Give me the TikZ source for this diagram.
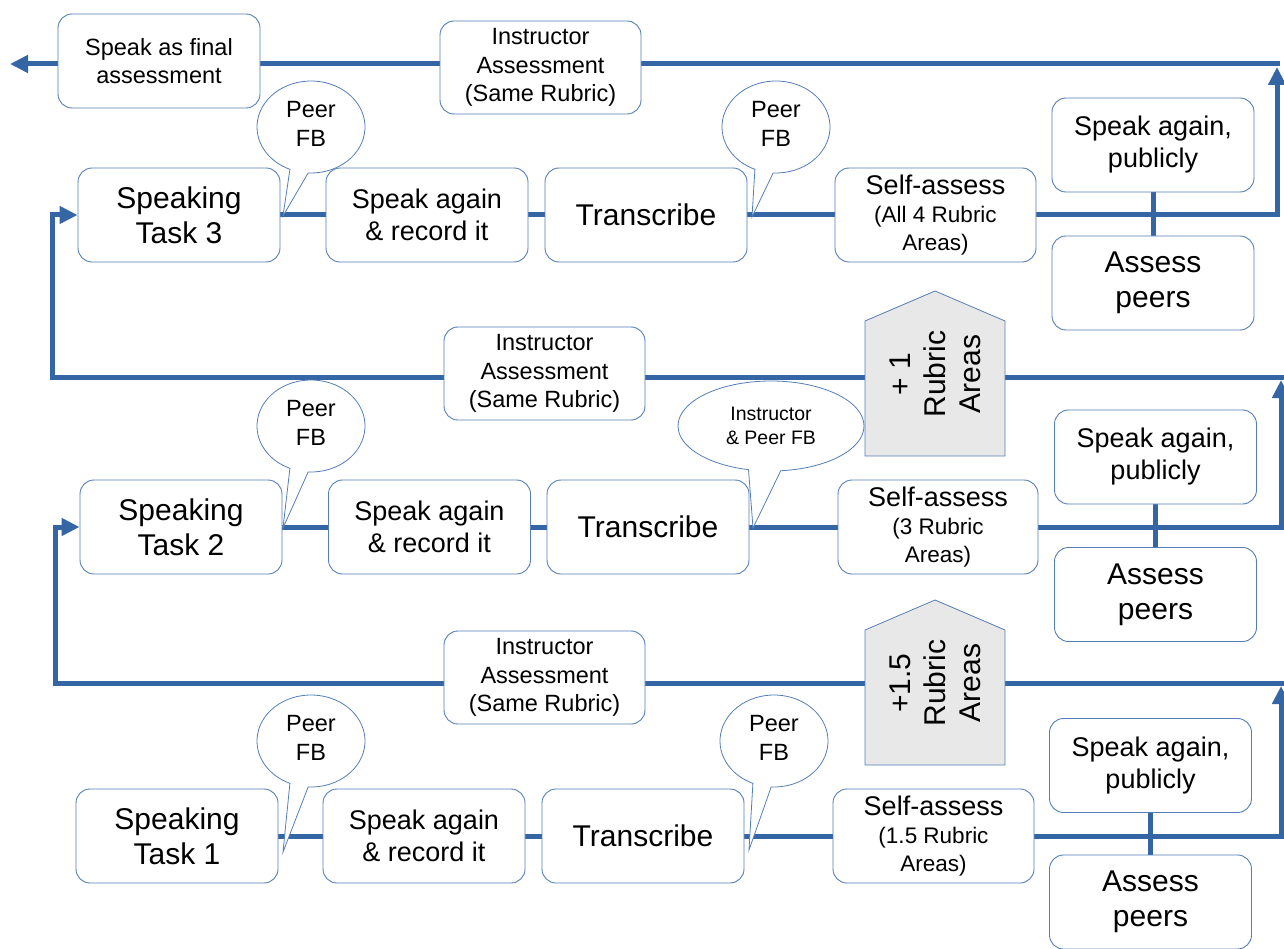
\documentclass[tikz,border=0pt]{standalone}
\usepackage{fontspec}
\setmainfont{Liberation Sans}
\usetikzlibrary{arrows.meta}
\definecolor{lineblue}{RGB}{52,101,164}
\definecolor{edgeblue}{RGB}{84,126,184}
\definecolor{pentfill}{RGB}{232,232,232}
\pgfdeclarelayer{bg}
\pgfsetlayers{bg,main}
\begin{document}
\begin{tikzpicture}[x=1pt,y=-1pt,
  flow/.style={draw=lineblue,line width=5pt},
  arrowend/.style={-{Triangle[length=18pt,width=17pt]}},
  box/.style={draw=edgeblue,line width=0.9pt,rounded corners=14pt,fill=white,align=center,inner sep=0pt,minimum width=202pt,minimum height=94pt},
  big/.style={font=\fontsize{30}{35}\selectfont},
  mid/.style={font=\fontsize{27}{32}\selectfont},
  small/.style={font=\fontsize{23.5}{28.5}\selectfont},
  selfa/.style={font=\fontsize{22.5}{28}\selectfont},
  tiny/.style={font=\fontsize{19.5}{24.5}\selectfont},
  callout/.style={draw=edgeblue,line width=0.8pt,fill=white},
  pent/.style={draw=edgeblue,line width=0.8pt,fill=pentfill},
  penttext/.style={font=\fontsize{30}{35}\selectfont,align=center,rotate=90}]
\useasboundingbox (0,0) rectangle (1284,949);

% ---------- top row: final ----------
\node[box,small] (SF) at (159,61) {Speak as final\\assessment};
\node[box,small,minimum width=201pt,minimum height=93pt] (IA3) at (540.5,67.5) {Instructor\\Assessment\\(Same Rubric)};
\coordinate (topR) at (1280,64);
\coordinate (endL) at (10,64);

% ---------- row 3 ----------
\node[box,big] (ST3) at (179,215) {Speaking\\Task 3};
\node[box,mid] (SA3) at (427,215) {Speak again\\\& record it};
\node[box,big] (TR3) at (646,215) {Transcribe};
\node[box,selfa,minimum width=201pt] (SL3) at (935.5,215) {{\fontsize{27}{29}\selectfont Self-assess}\\(All 4 Rubric\\Areas)};
\node[box,mid] (SP3) at (1153,145) {Speak again,\\publicly};
\node[box,big] (AP3) at (1153,283) {Assess\\peers};
\coordinate (up3) at (1277,67);

% ---------- row 2 ----------
\node[box,small,minimum width=201pt,minimum height=93pt] (IA2) at (544.5,373.5) {Instructor\\Assessment\\(Same Rubric)};
\node[box,big] (ST2) at (181,527) {Speaking\\Task 2};
\node[box,mid] (SA2) at (429.5,527) {Speak again\\\& record it};
\node[box,big] (TR2) at (648,527) {Transcribe};
\node[box,selfa,minimum width=200pt] (SL2) at (938,527) {{\fontsize{27}{29}\selectfont Self-assess}\\(3 Rubric\\Areas)};
\node[box,mid] (SP2) at (1155.5,457) {Speak again,\\publicly};
\node[box,big] (AP2) at (1155.5,594.5) {Assess\\peers};
\coordinate (up2) at (1281,380);
\coordinate (ret2R) at (1284,377);
\coordinate (ret2L) at (52,377);

% ---------- row 1 ----------
\node[box,small,minimum width=201pt,minimum height=93pt] (IA1) at (544.5,677.5) {Instructor\\Assessment\\(Same Rubric)};
\node[box,big] (ST1) at (177,836) {Speaking\\Task 1};
\node[box,mid] (SA1) at (424,836) {Speak again\\\& record it};
\node[box,big] (TR1) at (643,836) {Transcribe};
\node[box,selfa,minimum width=201pt] (SL1) at (933.5,836) {{\fontsize{27}{29}\selectfont Self-assess}\\(1.5 Rubric\\Areas)};
\node[box,mid] (SP1) at (1150.5,765.5) {Speak again,\\publicly};
\node[box,big] (AP1) at (1150.5,902) {Assess\\peers};
\coordinate (up1) at (1281,686);
\coordinate (ret1R) at (1284,683);
\coordinate (ret1L) at (55,683);

% ---------- pentagons ----------
\draw[pent] (865,456) -- (865,321) -- (935,291) -- (1005,321) -- (1005,456) -- cycle;
\node[penttext] (P2) at (935,374) {+ 1\\Rubric\\Areas};
\draw[pent] (865,765) -- (865,630) -- (935,600) -- (1005,630) -- (1005,765) -- cycle;
\node[penttext] (P1) at (935,683) {+1.5\\Rubric\\Areas};

% ---------- callouts ----------
\draw[callout] (311,127) ++(93:54 and 46) arc[start angle=93,end angle=-247,x radius=54,y radius=46] -- (283,216) -- cycle;
\node[small,align=center] (C3L) at (311,124) {Peer\\FB};
\draw[callout] (776,127) ++(93:54 and 46) arc[start angle=93,end angle=-247,x radius=54,y radius=46] -- (752,217) -- cycle;
\node[small,align=center] (C3R) at (776,124) {Peer\\FB};
\draw[callout] (311,426) ++(93:54 and 46) arc[start angle=93,end angle=-247,x radius=54,y radius=46] -- (283,528) -- cycle;
\node[small,align=center] (C2L) at (311,423) {Peer\\FB};
\draw[callout] (771,426) ++(84:93 and 45) arc[start angle=84,end angle=-256,x radius=93,y radius=45] -- (753,528) -- cycle;
\node[tiny,align=center] (C2R) at (771,426) {Instructor\\\& Peer FB};
\draw[callout] (311,741) ++(93:54 and 46) arc[start angle=93,end angle=-247,x radius=54,y radius=46] -- (283,852) -- cycle;
\node[small,align=center] (C1L) at (311,738) {Peer\\FB};
\draw[callout] (774,741) ++(93:54 and 46) arc[start angle=93,end angle=-247,x radius=54,y radius=46] -- (749,850) -- cycle;
\node[small,align=center] (C1R) at (774,738) {Peer\\FB};

% ---------- connectors (under the nodes) ----------
\begin{pgfonlayer}{bg}
  % top line
  \draw[flow,arrowend] (topR) -- (endL);
  % row 3
  \draw[flow] (ST3.east) -- (SA3.west);
  \draw[flow] (SA3.east) -- (TR3.west);
  \draw[flow] (TR3.east) -- (SL3.west);
  \draw[flow,arrowend] (SL3.east) -| (up3);
  \draw[flow] (SP3.south) -- (AP3.north);
  % return 2 -> 3
  \draw[flow,arrowend] (ret2R) -- (ret2L) |- (ST3.west);
  % row 2
  \draw[flow] (ST2.east) -- (SA2.west);
  \draw[flow] (SA2.east) -- (TR2.west);
  \draw[flow] (TR2.east) -- (SL2.west);
  \draw[flow,arrowend] (SL2.east) -| (up2);
  \draw[flow] (SP2.south) -- (AP2.north);
  % return 1 -> 2
  \draw[flow,arrowend] (ret1R) -- (ret1L) |- (ST2.west);
  % row 1
  \draw[flow] (ST1.east) -- (SA1.west);
  \draw[flow] (SA1.east) -- (TR1.west);
  \draw[flow] (TR1.east) -- (SL1.west);
  \draw[flow,arrowend] (SL1.east) -| (up1);
  \draw[flow] (SP1.south) -- (AP1.north);
\end{pgfonlayer}
\end{tikzpicture}
\end{document}
